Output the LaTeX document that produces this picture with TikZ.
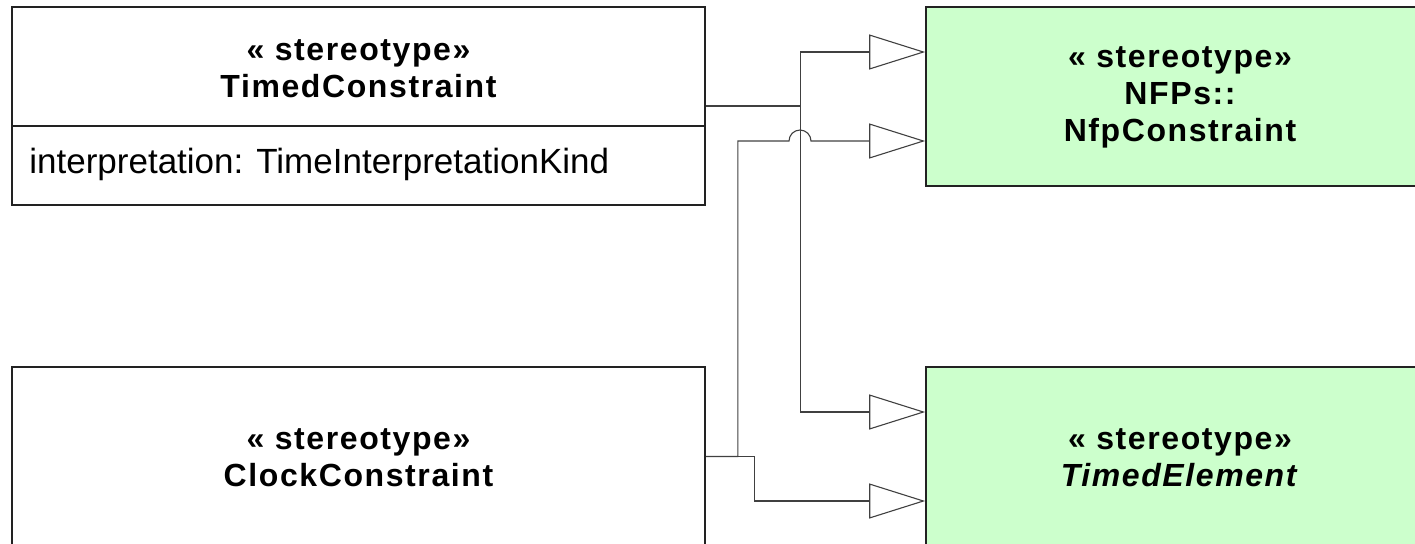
\documentclass[tikz,border=0pt]{standalone}
\usepackage{fontspec}
\setmainfont{Liberation Sans}
\newfontfamily\spaced[LetterSpace=5]{Liberation Sans}
\usepackage{tikz}
\usetikzlibrary{positioning,arrows.meta,calc}
\definecolor{nfpgreen}{HTML}{CCFFCC}
\definecolor{edge}{HTML}{222222}
\tikzset{
  cls/.style={rectangle,draw=edge,line width=0.8pt,inner sep=0pt},
  plaincls/.style={cls,fill=white,minimum width=346.5pt,minimum height=99pt},
  greencls/.style={cls,fill=nfpgreen,minimum width=254pt,minimum height=89.5pt},
  title/.style={align=center,font=\spaced\bfseries\fontsize{16}{18.5}\selectfont,inner sep=0pt},
  attr/.style={anchor=west,font=\fontsize{17.5}{20}\selectfont,inner sep=0pt},
  gen/.style={draw=black!75,line width=0.55pt,
              -{Triangle[open,length=28pt,width=17.5pt,line width=0.55pt]}}
}

\begin{document}
\begin{tikzpicture}[x=0.5pt,y=-0.5pt]
  \useasboundingbox (0,0) rectangle (1415,543);

  % ---- classes ----
  \node[plaincls] (tc) at (358.5,106) {};
  \draw[draw=edge,line width=0.8pt] ([yshift=-60pt]tc.north west) -- ([yshift=-60pt]tc.north east);
  \node[title] (tcname) at (358.5,69) {« stereotype»\\TimedConstraint};
  \node[attr] (tcattr) at (29,164) {interpretation: TimeInterpretationKind};

  \node[plaincls,minimum height=89.5pt] (cc) at (358.5,456.5) {};
  \node[title] (ccname) at (358.5,458) {« stereotype»\\ClockConstraint};

  \node[greencls] (nfp) at (1180,96.5) {};
  \node[title] (nfpname) at (1180,97) {« stereotype»\\NFPs::\\NfpConstraint};

  \node[greencls] (te) at (1180,456.5) {};
  \node[title] (tename) at (1180,458) {« stereotype»\\\textit{TimedElement}};

  % ---- generalizations ----
  \coordinate (hop) at (789,141);
  \draw[gen] (tc.east) -- ++(95,0) |- ([yshift=22.25pt]nfp.west);
  \draw[gen] (tc.east) -- ++(95,0) |- ([yshift=22.25pt]te.west);
  \draw[gen] (cc.east) -- ++(32,0) |- (hop)
    arc[start angle=180,end angle=360,radius=11] -- ([yshift=-22.25pt]nfp.west);
  \draw[gen] (cc.east) -- ++(49,0) |- ([yshift=-22.25pt]te.west);
\end{tikzpicture}
\end{document}
